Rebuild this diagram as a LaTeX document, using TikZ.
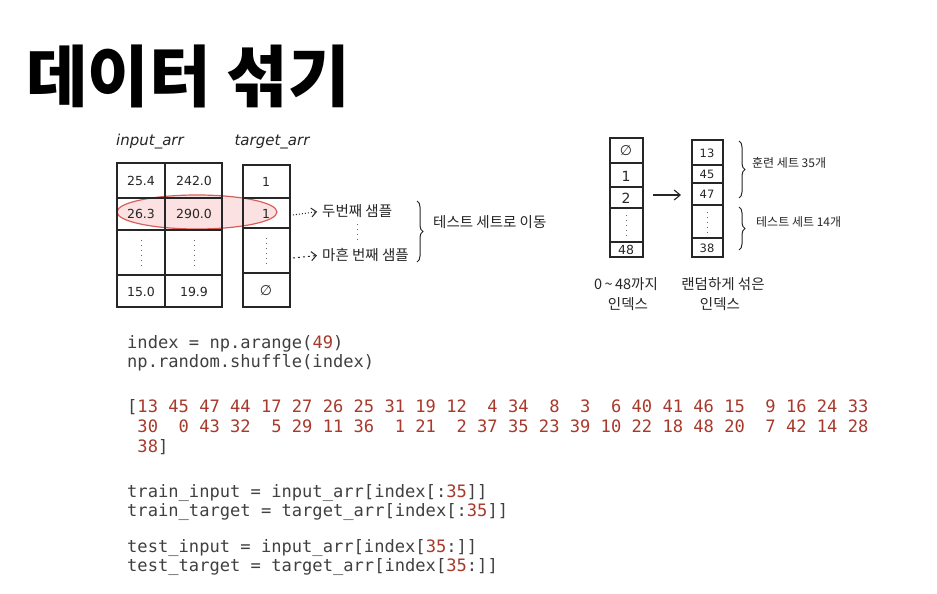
\documentclass[tikz,border=0pt]{standalone}
\usepackage{fontspec}
\newfontfamily\kr{Noto Sans CJK KR}
\newfontfamily\hand{DejaVu Sans}
\setmonofont{DejaVu Sans Mono}
\usetikzlibrary{decorations.pathreplacing,arrows.meta,calc,shapes.geometric}
\definecolor{codegray}{HTML}{404040}
\definecolor{codenum}{HTML}{A8392C}
\definecolor{ink}{HTML}{262626}
\definecolor{pinkfill}{HTML}{FBE1E1}
\definecolor{pinkline}{HTML}{D8605B}
\newcommand{\cn}[1]{\textcolor{codenum}{#1}}
\begin{document}
\begin{tikzpicture}[x=1pt,y=-1pt,
  hw/.style={font=\hand\fontsize{12.5}{13}\selectfont, text=ink, inner sep=0pt},
  lbl/.style={font=\hand\itshape\fontsize{15}{16}\selectfont, text=ink, inner sep=0pt},
  krhw/.style={font=\kr\fontsize{14.5}{16}\selectfont, text=ink, inner sep=0pt},
  krsm/.style={font=\kr\fontsize{12}{13}\selectfont, text=ink, inner sep=0pt},
  code/.style={font=\ttfamily\fontsize{17.1}{19}\selectfont, text=codegray, anchor=base west, inner sep=0pt},
  tline/.style={draw=ink, line width=1.1pt},
  hbrace/.style={draw=ink, line width=1pt, decorate, decoration={brace, amplitude=6pt}},
  vd/.style={draw=ink!70, line width=1pt, dash pattern=on 1pt off 4pt},
  harrow/.style={ink, line width=1pt, -{Straight Barb[length=5pt,width=9pt]}, shorten >=5pt}
]
\useasboundingbox (0,0) rectangle (937,594);
\fill[white] (0,0) rectangle (937,594);

% title
\node[anchor=base west, inner sep=0pt, font=\kr\bfseries\fontsize{67}{70}\selectfont] (title) at (26,101) {데이터 섞기};

% ---------- left sketch ----------
\node[lbl] (lin) at (150,142) {input\_arr};
\node[lbl] (ltg) at (272,142) {target\_arr};

% highlight ellipse
\node[draw=pinkline, fill=pinkfill, line width=1.2pt, ellipse, minimum width=160pt, minimum height=34pt, inner sep=0pt] (hl) at (197,212) {};

% input table
\draw[tline] (117,163) rectangle (222,307);
\draw[tline] (165,163) -- (165,307);
\draw[tline] (117,198) -- (222,198);
\draw[tline] (117,230) -- (222,230);
\draw[tline] (117,275) -- (222,275);
\node[hw] (a11) at (141,181) {25.4};
\node[hw] (a12) at (194,181) {242.0};
\node[hw] (a21) at (141,214) {26.3};
\node[hw] (a22) at (194,214) {290.0};
\draw[vd] (141,240) -- (141,268);
\draw[vd] (194,240) -- (194,268);
\node[hw] (a41) at (141,292) {15.0};
\node[hw] (a42) at (194,292) {19.9};

% target table
\draw[tline] (243,165) rectangle (290,307);
\draw[tline] (243,198) -- (290,198);
\draw[tline] (243,228) -- (290,228);
\draw[tline] (243,273) -- (290,273);
\node[hw] (t1) at (266,182) {1};
\node[hw] (t2) at (266,214) {1};
\draw[vd] (266,238) -- (266,266);
\node[hw, font=\hand\fontsize{14}{15}\selectfont] (t4) at (266,291) {∅};
\coordinate (t2r) at (293,215);
\coordinate (t3r) at (293,258);

\node[krhw, anchor=west] (s2) at (322,211) {두번째 샘플};
\node[krhw, anchor=west] (s40) at (322,255) {마흔 번째 샘플};
\draw[harrow, dotted] (t2r) -- (s2.west);
\draw[harrow, dash pattern=on 2pt off 3pt] (t3r) -- (s40.west);
\draw[vd] (357,224) -- (357,242);
\coordinate (b1t) at (417,201);
\coordinate (b1b) at (417,262);
\draw[hbrace] (b1t) -- (b1b);
\node[krhw, anchor=west] (mv) at (433,222) {테스트 세트로 이동};

% ---------- right sketch ----------
\draw[tline] (610,138) rectangle (643,257);
\draw[tline] (610,163) -- (643,163);
\draw[tline] (610,187) -- (643,187);
\draw[tline] (610,208) -- (643,208);
\draw[tline] (610,242) -- (643,242);
\node[hw, font=\hand\fontsize{14}{15}\selectfont] (i0) at (626,151) {∅};
\node[hw, font=\hand\fontsize{14}{15}\selectfont] (i1) at (626,176) {1};
\node[hw, font=\hand\fontsize{14}{15}\selectfont] (i2) at (626,198) {2};
\draw[vd] (626,215) -- (626,237);
\node[hw] (i48) at (626,250) {48};

\draw[tline] (692,140) rectangle (723,257);
\draw[tline] (692,165) -- (723,165);
\draw[tline] (692,183) -- (723,183);
\draw[tline] (692,205) -- (723,205);
\draw[tline] (692,238) -- (723,238);
\node[hw, font=\hand\fontsize{11.5}{12}\selectfont] (r1) at (707,153) {13};
\node[hw, font=\hand\fontsize{11.5}{12}\selectfont] (r2) at (707,174) {45};
\node[hw, font=\hand\fontsize{11.5}{12}\selectfont] (r3) at (707,194) {47};
\draw[vd] (707,212) -- (707,233);
\node[hw, font=\hand\fontsize{11.5}{12}\selectfont] (r38) at (707,248) {38};

\coordinate (arA) at (653,195);
\coordinate (arB) at (681,195);
\draw[ink, line width=1.1pt, -{Straight Barb[length=6pt,width=10pt]}] (arA) -- (arB);

\coordinate (b2t) at (739,141);
\coordinate (b2b) at (739,198);
\coordinate (b3t) at (739,207);
\coordinate (b3b) at (739,250);
\draw[hbrace] (b2t) -- (b2b);
\draw[hbrace] (b3t) -- (b3b);
\node[krsm, anchor=west] (trn) at (752,163) {훈련 세트 35개};
\node[krsm, anchor=west] (tst) at (756,222) {테스트 세트 14개};

\node[krhw] (l1a) at (626,284) {0\,\textasciitilde\,48까지};
\node[krhw] (l1b) at (628,304) {인덱스};
\node[krhw] (l2a) at (723,284) {랜덤하게 섞은};
\node[krhw] (l2b) at (720,304) {인덱스};

% ---------- code ----------
\node[code] (c1) at (127,348) {index = np.arange(\cn{49})};
\node[code] (c2) at (127,367) {np.random.shuffle(index)};
\node[code] (c3) at (127,412) {[\cn{13 45 47 44 17 27 26 25 31 19 12\ \ 4 34\ \ 8\ \ 3\ \ 6 40 41 46 15\ \ 9 16 24 33}};
\node[code] (c4) at (127,432) {\phantom{[}\cn{30\ \ 0 43 32\ \ 5 29 11 36\ \ 1 21\ \ 2 37 35 23 39 10 22 18 48 20\ \ 7 42 14 28}};
\node[code] (c5) at (127,452) {\phantom{[}\cn{38}]};
\node[code] (c6) at (127,497) {train\_input = input\_arr[index[:\cn{35}]]};
\node[code] (c7) at (127,516) {train\_target = target\_arr[index[:\cn{35}]]};
\node[code] (c8) at (127,552) {test\_input = input\_arr[index[\cn{35}:]]};
\node[code] (c9) at (127,571) {test\_target = target\_arr[index[\cn{35}:]]};
\end{tikzpicture}
\end{document}
